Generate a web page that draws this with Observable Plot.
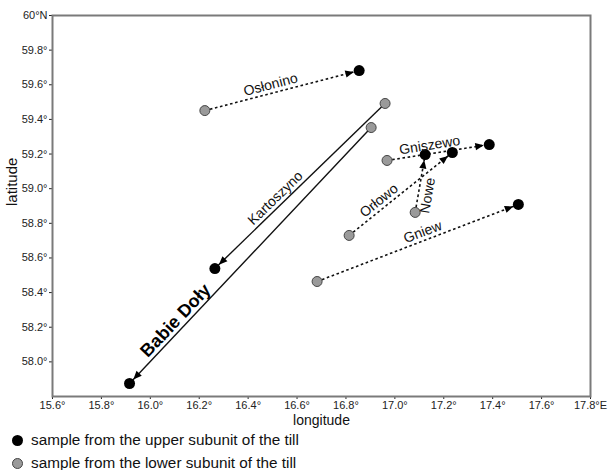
<!DOCTYPE html>
<html>
<head>
<meta charset="utf-8">
<script src="https://cdn.jsdelivr.net/npm/d3@7"></script>
<script src="https://cdn.jsdelivr.net/npm/@observablehq/plot@0.6"></script>
<style>
  html, body { margin: 0; padding: 0; background: #fff; }
  body { width: 609px; height: 470px; position: relative; font-family: "Liberation Sans", Arial, sans-serif; overflow: hidden; }
  #legend { position: absolute; left: 0; top: 430px; width: 609px; font-size: 15.3px; color: #111; }
  .row { position: absolute; left: 12px; height: 16px; display: flex; align-items: center; white-space: nowrap; }
  .sw { width: 11px; height: 11px; border-radius: 50%; margin-right: 8px; box-sizing: border-box; }
</style>
</head>
<body>
<div id="chart"></div>
<div id="legend">
  <div class="row" style="top:2px"><span class="sw" style="background:#000"></span><span>sample from the upper subunit of the till</span></div>
  <div class="row" style="top:25px"><span class="sw" style="background:#9a9a9a;border:1px solid #444"></span><span>sample from the lower subunit of the till</span></div>
</div>
<script>
// ---- data ----
const sites    = ["Osłonino", "Kartoszyno", "Babie Doły", "Gniszewo", "Orłowo", "Nowe", "Gniew"];
const lowerLon = [16.223, 16.960, 16.903, 16.968, 16.813, 17.083, 16.682];
const lowerLat = [59.451, 59.492, 59.353, 59.163, 58.730, 58.863, 58.464];
const upperLon = [16.854, 16.264, 15.915, 17.386, 17.235, 17.124, 17.505];
const upperLat = [59.682, 58.539, 57.875, 59.255, 59.209, 59.197, 58.909];
const lineKind = ["dotted", "solid", "solid", "dotted", "dotted", "dotted", "dotted"];
const xTicks = [15.6, 15.8, 16.0, 16.2, 16.4, 16.6, 16.8, 17.0, 17.2, 17.4, 17.6, 17.8];
const yTicks = [58.0, 58.2, 58.4, 58.6, 58.8, 59.0, 59.2, 59.4, 59.6, 59.8, 60.0];
const xLabel = "longitude";
const yLabel = "latitude";

// ---- layout ----
const W = 609, H = 430;
const mL = 52, mR = 19, mT = 15, mB = 34;
const xDomain = [15.6, 17.8], yDomain = [57.8, 60.0];
// label placement: fraction along line (lower -> upper), side of line, gap in px
const labelT    = [0.44, 0.61, 0.78, 0.43, 0.34, 0.32, 0.54];
const labelSide = ["bottom", "bottom", "bottom", "bottom", "bottom", "top", "bottom"];
const labelGap  = 4;

const pxPerX = (W - mL - mR) / (xDomain[1] - xDomain[0]);
const pxPerY = (H - mT - mB) / (yDomain[1] - yDomain[0]);

const rows = sites.map((s, i) => {
  const dx = (upperLon[i] - lowerLon[i]) * pxPerX;
  const dy = -(upperLat[i] - lowerLat[i]) * pxPerY;
  let a = Math.atan2(dy, dx) * 180 / Math.PI;
  if (a > 90) a -= 180;
  if (a < -90) a += 180;
  const t = labelT[i];
  const r = a * Math.PI / 180;
  const g = labelSide[i] === "bottom" ? labelGap : -labelGap;
  // "up" direction of rotated text in screen px: (sin a, -cos a)
  const ox = g * Math.sin(r), oy = -g * Math.cos(r);
  return {
    site: s,
    x1: lowerLon[i], y1: lowerLat[i], x2: upperLon[i], y2: upperLat[i],
    kind: lineKind[i],
    lx: lowerLon[i] + t * (upperLon[i] - lowerLon[i]) + ox / pxPerX,
    ly: lowerLat[i] + t * (upperLat[i] - lowerLat[i]) - oy / pxPerY,
    angle: a,
    side: labelSide[i]
  };
});

const fmtX = d => d === 17.8 ? "17.8°E" : d.toFixed(1) + "°";
const fmtY = d => d === 60 ? "60°N" : d.toFixed(1) + "°";

const dotted = rows.filter(d => d.kind === "dotted");
const solid = rows.filter(d => d.kind === "solid");
const plain = rows.filter(d => d.site !== "Babie Doły");
const bold = rows.filter(d => d.site === "Babie Doły");

const plot = Plot.plot({
  width: W, height: H,
  marginLeft: mL, marginRight: mR, marginTop: mT, marginBottom: mB,
  style: { fontFamily: "Liberation Sans, Arial, sans-serif", fontSize: "11px", color: "#222", background: "#fff" },
  x: { domain: xDomain, ticks: xTicks, tickFormat: fmtX, label: null, tickSize: 3, tickPadding: 2 },
  y: { domain: yDomain, ticks: yTicks, tickFormat: fmtY, label: null, tickSize: 3, tickPadding: 2 },
  marks: [
    Plot.frame({ stroke: "#7a7a7a", strokeWidth: 2 }),
    Plot.link(dotted, { x1: "x1", y1: "y1", x2: "x2", y2: "y2", stroke: "#111", strokeWidth: 1.6, strokeDasharray: "2.6,2.6", markerEnd: "arrow" }),
    Plot.link(solid, { x1: "x1", y1: "y1", x2: "x2", y2: "y2", stroke: "#111", strokeWidth: 1.4, markerEnd: "arrow" }),
    Plot.dot(rows, { x: "x1", y: "y1", r: 5, fill: "#9a9a9a", stroke: "#444", strokeWidth: 1 }),
    Plot.dot(rows, { x: "x2", y: "y2", r: 5.5, fill: "#000" }),
    Plot.text(plain.filter(d => d.side === "bottom"), { x: "lx", y: "ly", text: "site", rotate: "angle", lineAnchor: "bottom", fontSize: 14, fill: "#111" }),
    Plot.text(plain.filter(d => d.side === "top"), { x: "lx", y: "ly", text: "site", rotate: "angle", lineAnchor: "top", fontSize: 14, fill: "#111" }),
    Plot.text(bold, { x: "lx", y: "ly", text: "site", rotate: "angle", lineAnchor: "bottom", fontSize: 18, fontWeight: "bold", fill: "#000" }),
    Plot.text([xLabel], { frameAnchor: "bottom", dy: 24, fontSize: 14, fill: "#111", lineAnchor: "middle" }),
    Plot.text([yLabel], { frameAnchor: "left", dx: -40, rotate: -90, fontSize: 15, fill: "#111" })
  ]
});

// filled triangular arrowheads, stopping at the edge of the end dot
plot.querySelectorAll("marker").forEach(m => {
  m.setAttribute("viewBox", "-15 -5 16 10");
  m.setAttribute("markerWidth", "16");
  m.setAttribute("markerHeight", "10");
  m.setAttribute("markerUnits", "userSpaceOnUse");
  m.setAttribute("refX", "0");
  m.setAttribute("refY", "0");
  m.setAttribute("fill", "#000");
  m.setAttribute("stroke", "none");
  m.innerHTML = "";
  const p = document.createElementNS("http://www.w3.org/2000/svg", "path");
  p.setAttribute("d", "M-14,-3.6L-5.5,0L-14,3.6Z");
  p.setAttribute("fill", "#000");
  p.setAttribute("stroke", "none");
  m.appendChild(p);
});

document.getElementById("chart").appendChild(plot);
</script>
</body>
</html>
